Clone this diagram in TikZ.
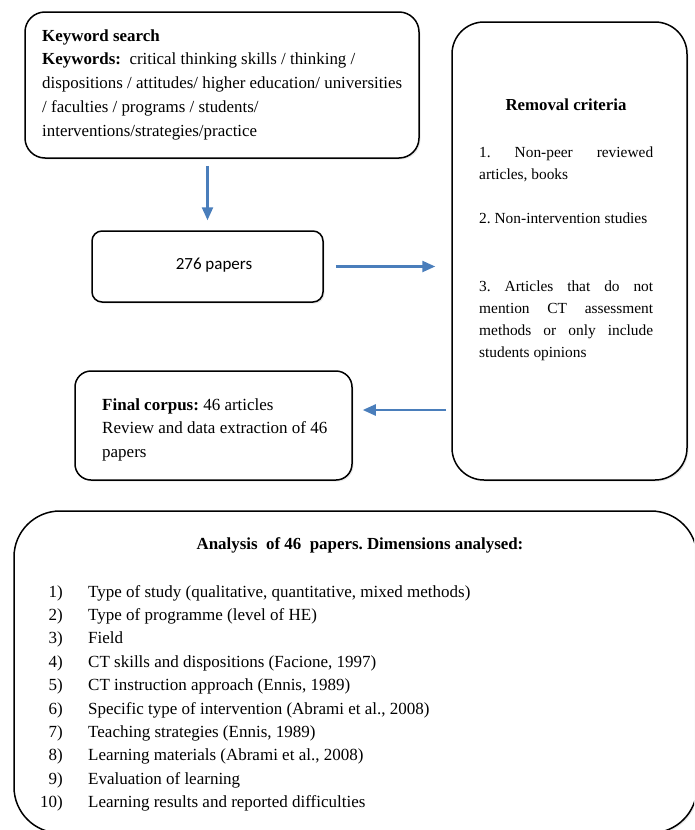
\documentclass[tikz,border=0pt]{standalone}
\usepackage{fontspec}
\setmainfont{Liberation Serif}
\newfontfamily\sansf{Carlito}
\usetikzlibrary{arrows.meta,shadows}
\definecolor{arrowblue}{HTML}{4A7EBB}
\frenchspacing
\begin{document}
\begin{tikzpicture}[x=1pt,y=-1pt,
  box/.style={draw=black, line width=1.5pt, fill=white, rectangle, inner sep=0pt,
    drop shadow={opacity=0.18, shadow xshift=1.5pt, shadow yshift=-1.5pt}},
  arr/.style={draw=arrowblue, line width=2.4pt, -{Triangle[length=13pt,width=11pt]}},
  txt/.style={inner sep=0pt, anchor=base west, align=left},
  crit/.style={inner sep=0pt, anchor=base west, text width=174pt, align=justify,
    font=\fontsize{15.4}{22}\selectfont},
]
\useasboundingbox (0,0) rectangle (694,830);
\begin{scope}
\clip (0,0) rectangle (694,830);
% boxes
\node[box, rounded corners=20pt, minimum width=394pt, minimum height=146pt] (kw) at (222,85) {};
\node[box, rounded corners=10pt, minimum width=231pt, minimum height=71pt] (p276) at (207.5,266.5) {};
\node[box, rounded corners=32pt, minimum width=235pt, minimum height=458pt] (rem) at (569.5,251) {};
\node[box, rounded corners=16pt, minimum width=277pt, minimum height=109pt] (fc) at (213.5,425.5) {};
\node[box, rounded corners=46pt, minimum width=683pt, minimum height=322pt] (an) at (355.5,672) {};
\end{scope}
% keyword text (base = last line)
\node[txt, font=\fontsize{16.9}{23.7}\selectfont] (kwt) at (42,136)
  {\textbf{Keyword search}\\
   \textbf{Keywords:}~ critical thinking skills / thinking /\\
   dispositions / attitudes/ higher education/ universities\\
   / faculties / programs / students/\\
   interventions/strategies/practice};
% 276 papers
\node[inner sep=0pt, font=\sansf\fontsize{17}{20}\selectfont] (p276t) at (214,265) {276 papers};
% removal criteria
\node[inner sep=0pt, font=\bfseries\fontsize{16.8}{22}\selectfont] (remt) at (566,105) {Removal criteria};
\node[crit] (r1) at (479,157) {1. Non-peer reviewed\linebreak articles, books};
\node[crit] (r2) at (479,223) {2. Non-intervention studies};
\node[crit] (r3) at (479,291)
  {3. Articles that do not\linebreak mention CT assessment\linebreak methods or only include\linebreak students opinions};
% final corpus (base = last line)
\node[txt, font=\fontsize{17}{23.5}\selectfont] (fct) at (102,457)
  {\textbf{Final corpus:} 46 articles\\
   Review and data extraction of 46\\
   papers};
% analysis
\node[inner sep=0pt, font=\bfseries\fontsize{16.9}{20}\selectfont] (ant) at (360,545) {Analysis~ of 46~ papers. Dimensions analysed:};
\foreach \i/\t in {
  1/{Type of study (qualitative, quantitative, mixed methods)},
  2/{Type of programme (level of HE)},
  3/{Field},
  4/{CT skills and dispositions (Facione, 1997)},
  5/{CT instruction approach (Ennis, 1989)},
  6/{Specific type of intervention (Abrami et al., 2008)},
  7/{Teaching strategies (Ennis, 1989)},
  8/{Learning materials (Abrami et al., 2008)},
  9/{Evaluation of learning},
  10/{Learning results and reported difficulties}}{
  \node[inner sep=0pt, anchor=base east, font=\fontsize{17}{20}\selectfont] (num\i) at (63,{597+(\i-1)*23.4}) {\i)};
  \node[txt, font=\fontsize{17}{20}\selectfont] (item\i) at (88,{597+(\i-1)*23.4}) {\t};
}
% arrows
\draw[arr, shorten <=7pt, shorten >=10pt] (kw.south -| p276.north) -- (p276.north);
\draw[arr, shorten <=12pt, shorten >=16pt] (p276.east) -- (p276.east -| rem.west);
\coordinate (la) at (452,410);
\draw[arr, shorten <=6pt, shorten >=10pt] (la) -- (la -| fc.east);
\end{tikzpicture}
\end{document}
